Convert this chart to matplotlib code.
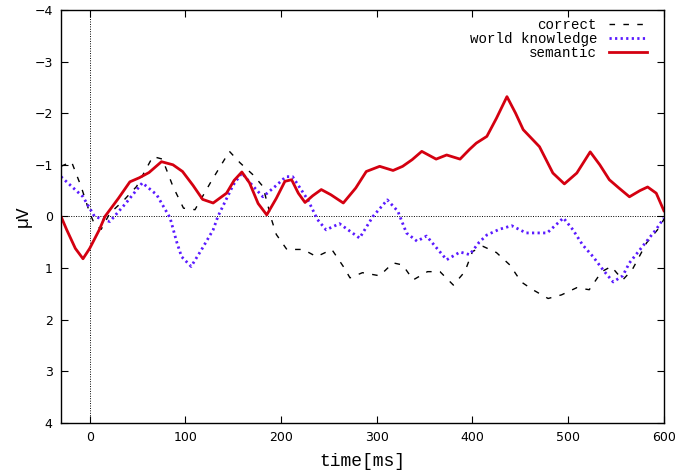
import matplotlib
matplotlib.use("Agg")
import matplotlib.pyplot as plt

# ERP traces, time in ms, amplitude in microvolts (negative up)
t_correct = [-30, -19, -9, 0, 5, 12, 21, 35, 49, 66, 76, 87, 98, 110, 127, 146, 157, 171, 181, 190,
             195, 206, 223, 237, 253, 265, 272, 285, 303, 317, 327, 338, 353, 366, 380, 392, 400, 411,
             425, 439, 451, 463, 479, 493, 509, 522, 535, 545, 557, 567, 582, 596, 600]
v_correct = [-0.97, -1.06, -0.58, -0.07, 0.15, 0.25, -0.06, -0.3, -0.58, -1.16, -1.11, -0.58, -0.16,
             -0.13, -0.68, -1.26, -1.04, -0.8, -0.58, 0.06, 0.35, 0.64, 0.64, 0.78, 0.64, 0.97, 1.19,
             1.09, 1.15, 0.9, 0.94, 1.23, 1.07, 1.07, 1.33, 1.07, 0.68, 0.58, 0.7, 0.94, 1.27, 1.42,
             1.59, 1.52, 1.38, 1.42, 1.07, 0.97, 1.23, 1.03, 0.51, 0.2, 0.05]

t_world = [-30, -20, -7, 5, 21, 38, 55, 70, 84, 91, 96, 106, 117, 129, 134, 150, 159, 170, 181, 195,
           205, 212, 228, 238, 247, 261, 282, 296, 311, 322, 331, 342, 352, 362, 373, 387, 397, 407,
           415, 428, 441, 456, 478, 495, 505, 515, 526, 537, 547, 557, 564, 582, 592, 600]
v_world = [-0.77, -0.6, -0.38, 0.0, 0.1, -0.26, -0.65, -0.42, 0.03, 0.5, 0.78, 0.97, 0.64, 0.26, 0.0,
           -0.61, -0.84, -0.6, -0.38, -0.6, -0.77, -0.77, -0.32, 0.06, 0.26, 0.14, 0.42, 0.0, -0.32,
           -0.1, 0.32, 0.48, 0.38, 0.6, 0.84, 0.69, 0.74, 0.5, 0.36, 0.25, 0.18, 0.32, 0.32, 0.03,
           0.26, 0.55, 0.78, 1.05, 1.27, 1.15, 0.9, 0.48, 0.25, 0.03]

t_semantic = [-30, -24, -15, -7, 0, 10, 16, 30, 42, 52, 62, 75, 87, 97, 108, 118, 129, 143, 151, 159,
              167, 176, 185, 195, 204, 211, 218, 225, 233, 242, 252, 265, 278, 289, 303, 317, 327,
              337, 347, 362, 373, 387, 397, 404, 415, 425, 436, 445, 453, 470, 484, 496, 509, 523,
              533, 543, 553, 564, 575, 583, 592, 600]
v_semantic = [0.0, 0.26, 0.62, 0.82, 0.62, 0.26, 0.0, -0.35, -0.67, -0.75, -0.85, -1.06, -1.0, -0.87,
              -0.6, -0.33, -0.26, -0.45, -0.7, -0.86, -0.65, -0.25, -0.03, -0.35, -0.68, -0.71, -0.45,
              -0.27, -0.4, -0.52, -0.42, -0.26, -0.55, -0.87, -0.97, -0.89, -0.97, -1.1, -1.26, -1.11,
              -1.19, -1.11, -1.3, -1.42, -1.55, -1.9, -2.32, -2.0, -1.68, -1.35, -0.84, -0.63, -0.84,
              -1.25, -1.0, -0.71, -0.55, -0.38, -0.5, -0.57, -0.45, -0.11]

xticks = [0, 100, 200, 300, 400, 500, 600]
yticks = [-4, -3, -2, -1, 0, 1, 2, 3, 4]

fig = plt.figure(figsize=(6.97, 4.72), dpi=100)
ax = fig.add_axes([0.0875, 0.104, 0.865, 0.875])

ax.axhline(0, color="black", lw=0.7, ls=(0, (1, 1.5)), zorder=1)
ax.axvline(0, color="black", lw=0.7, ls=(0, (1, 1.5)), zorder=1)

ax.plot(t_correct, v_correct, color="black", lw=1.0, ls=(0, (4, 6)), label="correct")
ax.plot(t_world, v_world, color="#5a1aff", lw=2.0, ls=(0, (0.8, 1.2)), label="world knowledge")
ax.plot(t_semantic, v_semantic, color="#d40010", lw=2.0, label="semantic")

ax.set_xlim(-30, 600)
ax.set_ylim(4, -4)
ax.set_xticks(xticks)
ax.set_yticks(yticks)
ax.tick_params(direction="in", top=True, right=True, length=5, width=0.8,
               labelsize=9, colors="black", pad=6)
for s in ax.spines.values():
    s.set_linewidth(1.0)

ax.set_xlabel("time[ms]", family="Liberation Mono", fontsize=13, labelpad=6)
ax.set_ylabel("µV", family="Liberation Mono", fontsize=13, labelpad=2)

leg = ax.legend(loc="upper right", bbox_to_anchor=(0.9718, 0.980), frameon=False,
                markerfirst=False, prop={"family": "Liberation Mono", "size": 10.2},
                handlelength=2.65, handletextpad=0.87, labelspacing=-0.02,
                borderaxespad=0.0, borderpad=0.0)
for txt in leg.get_texts():
    txt.set_ha("right")
leg._legend_box.align = "right"

fig.savefig("out.png", dpi=100)
